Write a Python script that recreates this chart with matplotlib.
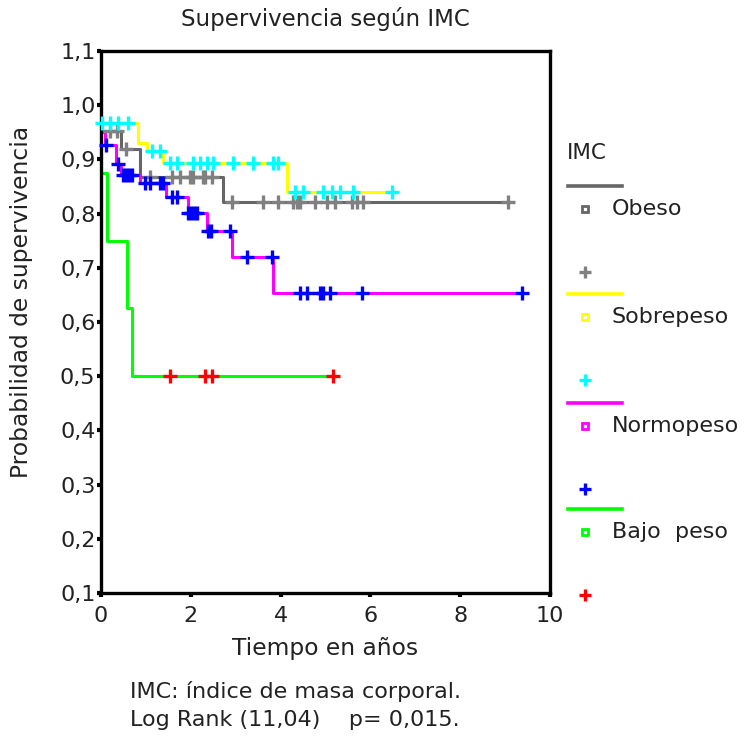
import numpy as np
import matplotlib
matplotlib.use('Agg')
import matplotlib.pyplot as plt

# Kaplan-Meier steps (time in years, survival)
obeso_t = [0.0, 0.45, 0.87, 2.72, 9.06]
obeso_s = [0.953, 0.919, 0.868, 0.822, 0.822]
obeso_cens = [0.2, 0.36, 0.56, 1.09, 1.58, 1.76, 1.98, 2.05, 2.27, 2.32, 2.47,
              2.92, 3.61, 3.94, 4.28, 4.37, 4.43, 4.77, 5.03, 5.21, 5.59, 5.70,
              5.84, 9.06]

sobre_t = [0.0, 0.83, 1.02, 1.38, 4.14, 6.50]
sobre_s = [0.967, 0.931, 0.916, 0.893, 0.840, 0.840]
sobre_cens = [0.02, 0.2, 0.38, 0.6, 1.14, 1.31, 1.54, 1.69, 2.05, 2.2, 2.36,
              2.49, 2.94, 3.39, 3.83, 3.94, 4.32, 4.5, 4.94, 5.14, 5.32, 5.61,
              6.48]

normo_t = [0.0, 0.09, 0.33, 0.44, 0.87, 1.45, 1.93, 2.35, 2.91, 3.82, 9.38]
normo_s = [0.951, 0.927, 0.892, 0.871, 0.857, 0.830, 0.801, 0.768, 0.720,
           0.653, 0.653]
normo_cens = [0.12, 0.38, 0.48, 0.56, 0.63, 0.7, 0.98, 1.09, 1.31, 1.38, 1.58,
              1.69, 1.94, 2.0, 2.07, 2.14, 2.38, 2.45, 2.87, 3.25, 3.81, 4.43,
              4.59, 4.88, 4.94, 5.1, 5.81, 9.38]

bajo_t = [0.0, 0.13, 0.57, 0.68, 5.2]
bajo_s = [0.875, 0.75, 0.625, 0.50, 0.50]
bajo_cens = [1.54, 2.32, 2.47, 5.17]

groups = ['Obeso', 'Sobrepeso', 'Normopeso', 'Bajo  peso']
line_colors = ['#666666', '#ffff00', '#ff00ff', '#00ff00']
cens_colors = ['#808080', '#00ffff', '#0000ff', '#ff0000']
curves = [(obeso_t, obeso_s, obeso_cens), (sobre_t, sobre_s, sobre_cens),
          (normo_t, normo_s, normo_cens), (bajo_t, bajo_s, bajo_cens)]

W, H = 748, 740
FONT = 16
TXT = '#222222'
fig = plt.figure(figsize=(W / 100, H / 100), dpi=100)
ax = fig.add_axes([101 / W, 1 - 593 / H, (550 - 101) / W, (593 - 51) / H])

for (t, s, cens), lc, cc in zip(curves, line_colors, cens_colors):
    t = np.array(t)
    s = np.array(s)
    ax.step(t, s, where='post', color=lc, linewidth=2.2, zorder=2)
    idx = np.searchsorted(t, cens, side='right') - 1
    ax.plot(cens, s[np.clip(idx, 0, len(s) - 1)], '+', color=cc,
            markersize=9.5, markeredgewidth=2.4, zorder=3, clip_on=False)

ax.set_xlim(0, 10)
ax.set_ylim(0.1, 1.1)
ax.set_xticks(np.arange(0, 11, 2))
yt = np.round(np.arange(0.1, 1.11, 0.1), 1)
ax.set_yticks(yt)
ax.set_yticklabels([f'{v:.1f}'.replace('.', ',') for v in yt])
ax.tick_params(direction='out', length=3, width=3, labelsize=FONT, pad=1,
               colors='black', labelcolor=TXT)
ax.tick_params(axis='x', pad=6)
for sp in ax.spines.values():
    sp.set_linewidth(2.4)
ax.set_xlabel('Tiempo en años', fontsize=FONT + 0.8, color=TXT)
ax.set_ylabel('Probabilidad de supervivencia', fontsize=FONT + 0.8, color=TXT)
ax.xaxis.set_label_coords(0.5, -0.1015)
ax.yaxis.set_label_coords(-0.176, 0.537)
ax.xaxis.label.set_va('center')
ax.yaxis.label.set_va('center')

fig.text(325 / W, 1 - 19 / H, 'Supervivencia según IMC', ha='center',
         va='center', fontsize=FONT + 0.5, color=TXT)

# legend drawn by hand in pixel coordinates
leg = fig.add_axes([0, 0, 1, 1], zorder=5)
leg.set_xlim(0, W)
leg.set_ylim(H, 0)
leg.axis('off')
leg.text(567, 153, 'IMC', fontsize=FONT - 0.5, va='center', color=TXT)
y0 = [186, 294, 403, 509]
for name, lc, cc, y in zip(groups, line_colors, cens_colors, y0):
    leg.plot([568, 622], [y, y], color=lc, linewidth=2.6)
    leg.plot(585, y + 23, 's', markersize=5, markerfacecolor='white',
             markeredgecolor=lc, markeredgewidth=2)
    leg.text(612, y + 23, name, fontsize=FONT, va='center', color=TXT)
    leg.plot(585, y + 86, '+', color=cc, markersize=9, markeredgewidth=2.4)

fig.text(130 / W, 1 - 692 / H, 'IMC: índice de masa corporal.', fontsize=FONT,
         va='center', color=TXT)
fig.text(130 / W, 1 - 720 / H, 'Log Rank (11,04)    p= 0,015.', fontsize=FONT,
         va='center', color=TXT)

fig.savefig('out.png', dpi=100)
